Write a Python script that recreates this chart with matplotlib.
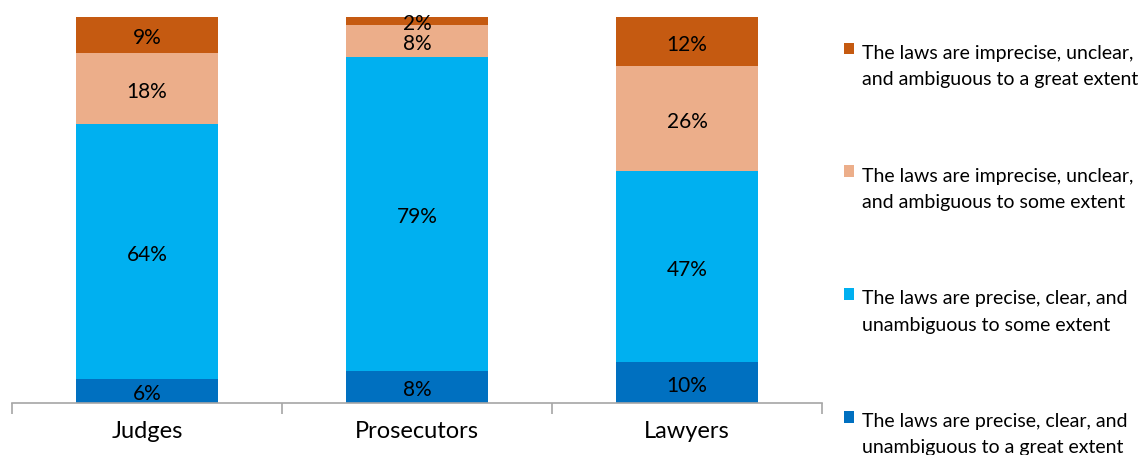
import numpy as np
import matplotlib.pyplot as plt

# survey answers per group (raw percentages, bars are drawn 100% stacked)
groups = ["Judges", "Prosecutors", "Lawyers"]
great_clear = [6, 8, 10]
some_clear = [64, 79, 47]
some_unclear = [18, 8, 26]
great_unclear = [9, 2, 12]

labels = [
    "The laws are precise, clear, and\nunambiguous to a great extent",
    "The laws are precise, clear, and\nunambiguous to some extent",
    "The laws are imprecise, unclear,\nand ambiguous to some extent",
    "The laws are imprecise, unclear,\nand ambiguous to a great extent",
]
colors = ["#0070C0", "#00B0F0", "#ECAE8A", "#C55A11"]

plt.rcParams['font.family'] = ['Lato', 'DejaVu Sans']

series = np.array([great_clear, some_clear, some_unclear, great_unclear], dtype=float)
totals = series.sum(axis=0)
shares = series / totals * 100

fig = plt.figure(figsize=(11.43, 4.56), dpi=100)
ax = fig.add_axes([12 / 1143, 1 - 404 / 456, 810 / 1143, 386 / 456])

x = np.arange(len(groups))
bottom = np.zeros(len(groups))
handles = []
for i in range(4):
    b = ax.bar(x, shares[i], 0.526, bottom=bottom, color=colors[i], label=labels[i])
    handles.append(b)
    for j in range(len(groups)):
        ax.text(x[j], bottom[j] + shares[i][j] / 2 - 0.6, f"{int(series[i][j])}%",
                ha="center", va="center", fontsize=15, color="black")
    bottom += shares[i]

ax.set_xlim(-0.5, 2.5)
ax.set_ylim(0, 100)
ax.set_yticks([])
for s in ["left", "right", "top"]:
    ax.spines[s].set_visible(False)
ax.spines["bottom"].set_color("#A6A6A6")
ax.spines["bottom"].set_linewidth(1.2)
ax.set_xticks([-0.5, 0.5, 1.5, 2.5])
ax.set_xticklabels([])
ax.set_xticks(x, minor=True)
ax.set_xticklabels(groups, minor=True, fontsize=17)
ax.tick_params(axis="x", which="major", length=8, color="#A6A6A6", width=1.2)
ax.tick_params(axis="x", which="minor", length=0, pad=12)

leg = fig.legend(handles[::-1], labels[::-1], loc="upper left",
                 bbox_to_anchor=(836 / 1143, 1 - 37 / 456), frameon=False,
                 fontsize=14, handlelength=0.55, handleheight=0.55,
                 handletextpad=0.4, labelspacing=4.1, borderaxespad=0)
for t in leg.get_texts():
    t.set_linespacing(1.65)
for h in leg.legend_handles:
    h.set_y(13)

fig.savefig("out.png", dpi=100)
